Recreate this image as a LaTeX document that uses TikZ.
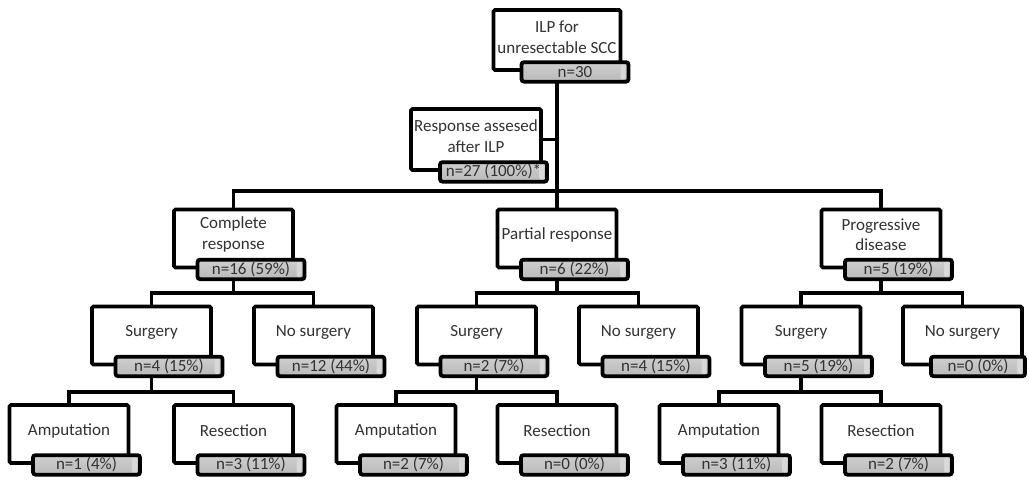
\documentclass[tikz,border=0pt]{standalone}
\usepackage{fontspec}
\setmainfont{Carlito}
\usetikzlibrary{backgrounds}
\definecolor{subtop}{RGB}{206,206,206}
\definecolor{subbot}{RGB}{186,186,186}
\definecolor{sublight}{RGB}{216,216,216}
\definecolor{txtc}{RGB}{50,50,50}
\begin{document}
\begin{tikzpicture}[x=1pt,y=-1pt,
  box/.style={draw=black, line width=3.8pt, fill=white, rounded corners=1.5pt,
    minimum width=119pt, minimum height=58pt, inner sep=0pt},
  txt/.style={inner sep=0pt, align=center, text=txtc,
    font=\fontsize{17}{20.5}\selectfont},
  subbox/.style={draw=black, line width=3.8pt, rounded corners=2.5pt,
    minimum width=107pt, minimum height=19.5pt, inner sep=0pt, text=txtc,
    font=\fontsize{17}{18}\selectfont, top color=subtop, bottom color=subbot,
    path picture={\fill[sublight] ([xshift=-8pt,yshift=-2pt]path picture bounding box.north east)
      rectangle ([xshift=-3pt,yshift=2pt]path picture bounding box.south east);}},
  conn/.style={line width=3.8pt}]
\useasboundingbox (0,0) rectangle (1030,479);

% level 0 and 1
\node[box, minimum width=127pt, minimum height=60pt] (top) at (557,40) {};
\node[txt] (topt) at ([yshift=3pt]top.center) {ILP for\\unresectable SCC};
\node[subbox, xshift=18pt] (topn) at (top.south) {n=30};
\node[box, minimum width=130pt, minimum height=61pt] (resp) at (476,139.5) {};
\node[txt] (respt) at ([yshift=3.5pt]resp.center) {Response assesed\\after ILP};
\node[subbox, xshift=17.5pt] (respn) at (resp.south) {n=27 (100\%)*};

% level 2
\node[box] (cr) at (233.5,238.5) {};
\node[txt] (crt) at ([yshift=4pt]cr.center) {Complete\\response};
\node[subbox, xshift=17.5pt] (crn) at (cr.south) {n=16 (59\%)};
\node[box] (pr) at (557,238.5) {};
\node[txt] (prt) at ([yshift=4pt]pr.center) {Partial response};
\node[subbox, xshift=17.5pt] (prn) at (pr.south) {n=6 (22\%)};
\node[box] (pd) at (881,238.5) {};
\node[txt] (pdt) at ([yshift=4pt]pd.center) {Progressive\\disease};
\node[subbox, xshift=17.5pt] (pdn) at (pd.south) {n=5 (19\%)};

% level 3
\node[box] (crs) at (151.5,335.5) {};
\node[txt] (crst) at ([yshift=3pt]crs.center) {Surgery};
\node[subbox, xshift=17.5pt] (crsn) at (crs.south) {n=4 (15\%)};
\node[box] (crns) at (313.5,335.5) {};
\node[txt] (crnst) at ([yshift=3pt]crns.center) {No surgery};
\node[subbox, xshift=17.5pt] (crnsn) at (crns.south) {n=12 (44\%)};
\node[box] (prs) at (476.5,335.5) {};
\node[txt] (prst) at ([yshift=3pt]prs.center) {Surgery};
\node[subbox, xshift=17.5pt] (prsn) at (prs.south) {n=2 (7\%)};
\node[box] (prns) at (638.5,335.5) {};
\node[txt] (prnst) at ([yshift=3pt]prns.center) {No surgery};
\node[subbox, xshift=17.5pt] (prnsn) at (prns.south) {n=4 (15\%)};
\node[box] (pds) at (801,335.5) {};
\node[txt] (pdst) at ([yshift=3pt]pds.center) {Surgery};
\node[subbox, xshift=17.5pt] (pdsn) at (pds.south) {n=5 (19\%)};
\node[box] (pdns) at (962.5,335.5) {};
\node[txt] (pdnst) at ([yshift=3pt]pdns.center) {No surgery};
\node[subbox, xshift=15.5pt, minimum width=94pt] (pdnsn) at (pdns.south) {n=0 (0\%)};

% level 4
\node[box] (cra) at (69,434) {};
\node[txt] (crat) at ([yshift=3pt]cra.center) {Amputation};
\node[subbox, xshift=17.5pt] (cran) at (cra.south) {n=1 (4\%)};
\node[box] (crr) at (233.5,434) {};
\node[txt] (crrt) at ([yshift=3pt]crr.center) {Resection};
\node[subbox, xshift=17.5pt] (crrn) at (crr.south) {n=3 (11\%)};
\node[box] (pra) at (396,434) {};
\node[txt] (prat) at ([yshift=3pt]pra.center) {Amputation};
\node[subbox, xshift=17.5pt] (pran) at (pra.south) {n=2 (7\%)};
\node[box] (prr) at (557,434) {};
\node[txt] (prrt) at ([yshift=3pt]prr.center) {Resection};
\node[subbox, xshift=17.5pt] (prrn) at (prr.south) {n=0 (0\%)};
\node[box] (pda) at (719,434) {};
\node[txt] (pdat) at ([yshift=3pt]pda.center) {Amputation};
\node[subbox, xshift=17.5pt] (pdan) at (pda.south) {n=3 (11\%)};
\node[box] (pdr) at (881,434) {};
\node[txt] (pdrt) at ([yshift=3pt]pdr.center) {Resection};
\node[subbox, xshift=17.5pt] (pdrn) at (pdr.south) {n=2 (7\%)};

% junction points
\coordinate (j1) at (557,191);
\coordinate (jcr) at (233.5,293);
\coordinate (jpr) at (557,293);
\coordinate (jpd) at (881,293);
\coordinate (jcrs) at (151.5,392);
\coordinate (jprs) at (476.5,392);
\coordinate (jpds) at (801,392);

\begin{pgfonlayer}{background}
\draw[conn] (top.center) -- (pr.center);
\draw[conn] (resp.east) -- (resp.east -| top.center);
\draw[conn] (cr.center) |- (j1) -| (pd.center);
\draw[conn] (cr.center) -- (jcr);
\draw[conn] (crs.center) |- (jcr) -| (crns.center);
\draw[conn] (pr.center) -- (jpr);
\draw[conn] (prs.center) |- (jpr) -| (prns.center);
\draw[conn] (pd.center) -- (jpd);
\draw[conn] (pds.center) |- (jpd) -| (pdns.center);
\draw[conn] (crs.center) -- (jcrs);
\draw[conn] (cra.center) |- (jcrs) -| (crr.center);
\draw[conn] (prs.center) -- (jprs);
\draw[conn] (pra.center) |- (jprs) -| (prr.center);
\draw[conn] (pds.center) -- (jpds);
\draw[conn] (pda.center) |- (jpds) -| (pdr.center);
\end{pgfonlayer}
\end{tikzpicture}
\end{document}
